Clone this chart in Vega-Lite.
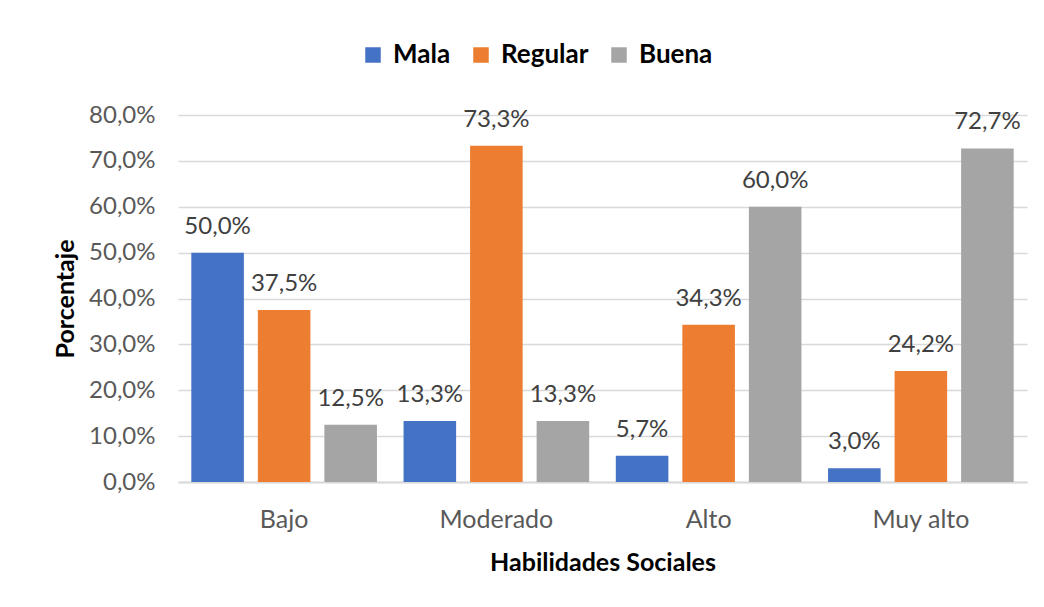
{
  "$schema": "https://vega.github.io/schema/vega-lite/v6.json",
  "autosize": {"type": "none"},
  "width": 849,
  "height": 367,
  "padding": {"left": 178, "top": 115, "right": 17, "bottom": 125},
  "background": "white",
  "config": {
    "locale": {"number": {"decimal": ",", "thousands": ".", "grouping": [3], "currency": ["", " €"]}},
    "font": "Lato",
    "view": {"stroke": null}
  },
  "data": {"values": [
    {"nivel": "Bajo", "cat": "Mala", "v": 0.5},
    {"nivel": "Bajo", "cat": "Regular", "v": 0.375},
    {"nivel": "Bajo", "cat": "Buena", "v": 0.125},
    {"nivel": "Moderado", "cat": "Mala", "v": 0.133},
    {"nivel": "Moderado", "cat": "Regular", "v": 0.733},
    {"nivel": "Moderado", "cat": "Buena", "v": 0.133},
    {"nivel": "Alto", "cat": "Mala", "v": 0.057},
    {"nivel": "Alto", "cat": "Regular", "v": 0.343},
    {"nivel": "Alto", "cat": "Buena", "v": 0.6},
    {"nivel": "Muy alto", "cat": "Mala", "v": 0.03},
    {"nivel": "Muy alto", "cat": "Regular", "v": 0.242},
    {"nivel": "Muy alto", "cat": "Buena", "v": 0.727}
  ]},
  "encoding": {
    "x": {
      "field": "nivel", "type": "nominal",
      "sort": ["Bajo", "Moderado", "Alto", "Muy alto"],
      "scale": {"paddingInner": 0, "paddingOuter": 0},
      "axis": {
        "title": "Habilidades Sociales", "labelAngle": 0,
        "labelFontSize": 25, "labelColor": "#595959", "labelPadding": 25,
        "titleFontSize": 25, "titleFontWeight": "bold", "titleColor": "#000000", "titlePadding": 18,
        "domainColor": "#D9D9D9", "domainWidth": 2, "ticks": false, "grid": false
      }
    },
    "xOffset": {
      "field": "cat", "type": "nominal",
      "sort": ["Mala", "Regular", "Buena"],
      "scale": {"paddingInner": 0.21, "paddingOuter": 0.2}
    },
    "y": {
      "field": "v", "type": "quantitative",
      "scale": {"domain": [0, 0.8], "nice": false},
      "axis": {
        "title": "Porcentaje", "format": ".1%", "values": [0, 0.1, 0.2, 0.3, 0.4, 0.5, 0.6, 0.7, 0.8],
        "labelOverlap": false,
        "labelFontSize": 24, "labelColor": "#595959", "labelPadding": 23,
        "titleFontSize": 25, "titleFontWeight": "bold", "titleColor": "#000000", "titlePadding": 10,
        "gridColor": "#D9D9D9", "gridWidth": 1.5, "domain": false, "ticks": false
      }
    }
  },
  "layer": [
    {
      "mark": {"type": "bar"},
      "encoding": {
        "color": {
          "field": "cat", "type": "nominal",
          "sort": ["Mala", "Regular", "Buena"],
          "scale": {"domain": ["Mala", "Regular", "Buena"], "range": ["#4472C4", "#ED7D31", "#A5A5A5"]},
          "legend": {
            "title": null, "orient": "none", "direction": "horizontal",
            "legendX": 182, "legendY": -73,
            "symbolType": "square", "symbolSize": 240, "symbolStrokeWidth": 0,
            "labelFontSize": 26, "labelFontWeight": "bold", "labelColor": "#000000",
            "columnPadding": 17, "symbolOffset": 0, "labelOffset": 7
          }
        }
      }
    },
    {
      "mark": {"type": "text", "baseline": "alphabetic", "dy": -19, "fontSize": 24, "color": "#404040"},
      "encoding": {
        "text": {"field": "v", "type": "quantitative", "format": ".1%"}
      }
    }
  ]
}
